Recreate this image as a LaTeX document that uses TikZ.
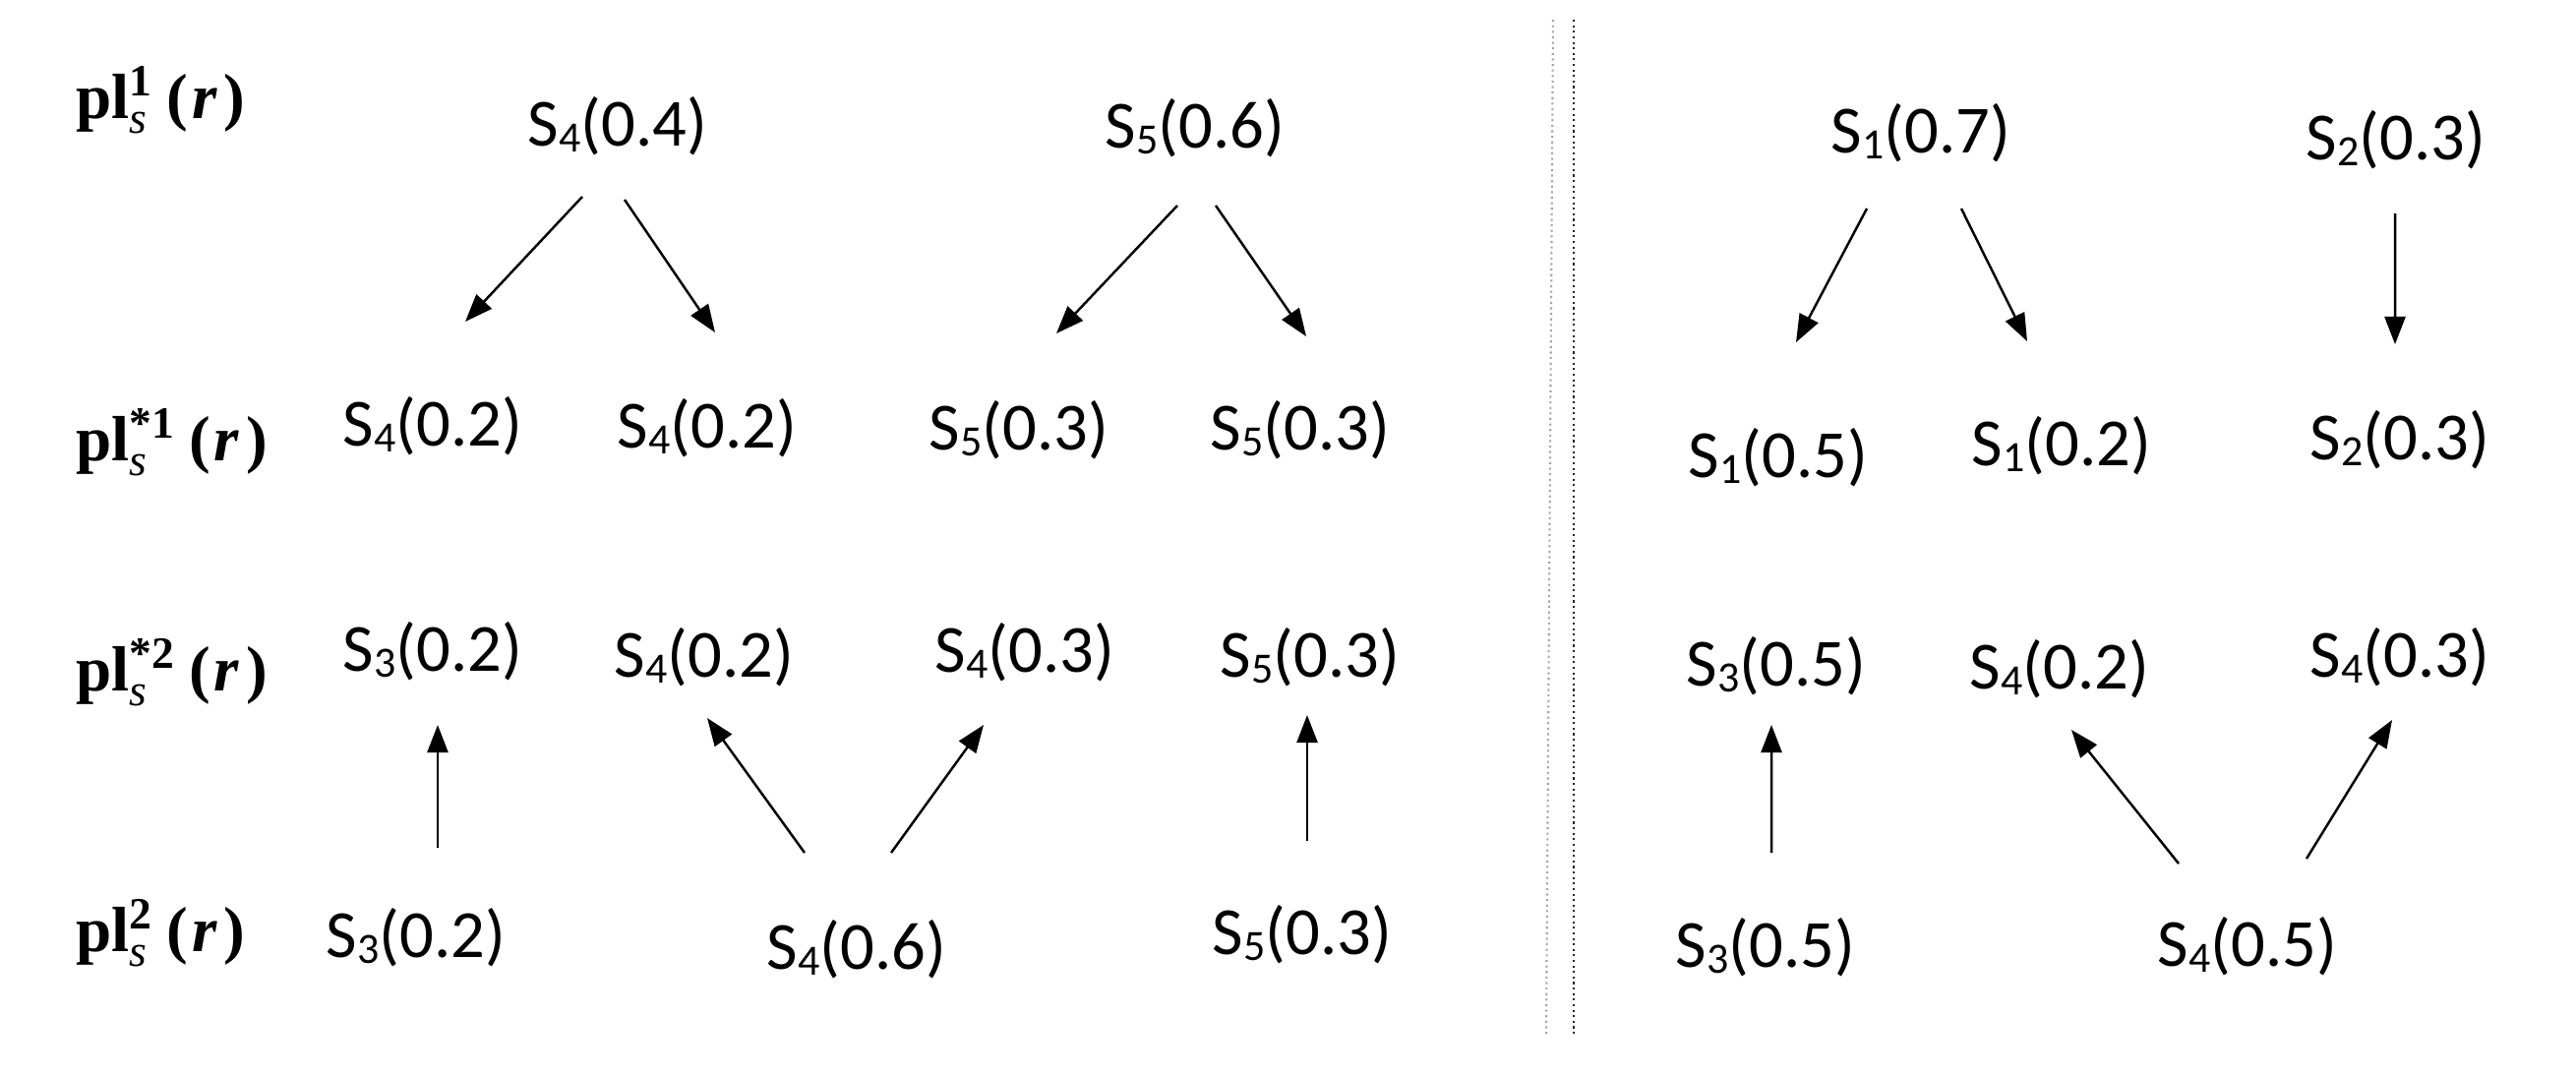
\documentclass[tikz,border=0pt]{standalone}
\usepackage{fontspec}
\usepackage{amsmath}
\setmainfont{Carlito}
\newfontfamily\lbfont{Liberation Serif}
\usetikzlibrary{arrows.meta}
% state with its probability, subscript as in the source
\newcommand{\stp}[2]{S\raisebox{-0.1em}{\fontsize{12.5}{12.5}\selectfont #1}(#2)}
% row label pl_s^x(r)
\newcommand{\plab}[1]{{\lbfont\textbf{pl}$^{\text{\lbfont\bfseries #1}}_{\text{\lbfont\itshape s}}$\hspace{0.2em}\textbf{(}\hspace{0.06em}\textbf{\textit{r}}\hspace{0.1em}\textbf{)}}}
\tikzset{
  st/.style={font=\fontsize{19.5}{23}\selectfont, inner sep=0pt, anchor=base},
  lab/.style={font=\fontsize{18.5}{22}\selectfont, inner sep=0pt, anchor=base west},
  arr/.style={-{Triangle[length=8pt,width=6pt]}, line width=0.7pt},
  sep/.style={densely dotted, line width=0.6pt}
}
\begin{document}
\begin{tikzpicture}
    \useasboundingbox (0,0) rectangle (26.19,-10.93);

    % Row labels
    \node[lab] (p1)  at (0.77,-1.20) {\plab{1}};
    \node[lab] (ps1) at (0.77,-4.68) {\plab{*1}};
    \node[lab] (ps2) at (0.77,-7.02) {\plab{*2}};
    \node[lab] (p2)  at (0.77,-9.67) {\plab{2}};

    % Left part
    \node[st] (l1a) at (6.28,-1.48) {\stp{4}{0.4}};
    \node[st] (l1b) at (12.15,-1.50) {\stp{5}{0.6}};
    \node[st] (l2a) at (4.40,-4.53) {\stp{4}{0.2}};
    \node[st] (l2b) at (7.19,-4.55) {\stp{4}{0.2}};
    \node[st] (l2c) at (10.36,-4.57) {\stp{5}{0.3}};
    \node[st] (l2d) at (13.22,-4.57) {\stp{5}{0.3}};
    \node[st] (l3a) at (4.40,-6.82) {\stp{3}{0.2}};
    \node[st] (l3b) at (7.16,-6.88) {\stp{4}{0.2}};
    \node[st] (l3c) at (10.42,-6.83) {\stp{4}{0.3}};
    \node[st] (l3d) at (13.32,-6.88) {\stp{5}{0.3}};
    \node[st] (l4a) at (4.23,-9.73) {\stp{3}{0.2}};
    \node[st] (l4b) at (8.71,-9.85) {\stp{4}{0.6}};
    \node[st] (l4c) at (13.24,-9.70) {\stp{5}{0.3}};

    \draw[arr] ([shift={(-0.36,-0.52)}]l1a.base) -- ([shift={(0.33,1.26)}]l2a.base);
    \draw[arr] ([shift={(0.07,-0.55)}]l1a.base) -- ([shift={(0.08,1.17)}]l2b.base);
    \draw[arr] ([shift={(-0.18,-0.59)}]l1b.base) -- ([shift={(0.38,1.18)}]l2c.base);
    \draw[arr] ([shift={(0.21,-0.59)}]l1b.base) -- ([shift={(0.06,1.15)}]l2d.base);
    \draw[arr] ([shift={(0.22,1.11)}]l4a.base) -- ([shift={(0.05,-0.55)}]l3a.base);
    \draw[arr] ([shift={(-0.53,1.18)}]l4b.base) -- ([shift={(0.03,-0.42)}]l3b.base);
    \draw[arr] ([shift={(0.35,1.18)}]l4b.base) -- ([shift={(-0.42,-0.54)}]l3c.base);
    \draw[arr] ([shift={(0.05,1.15)}]l4c.base) -- ([shift={(-0.03,-0.39)}]l3d.base);

    % Separator
    \draw[sep, gray!70] (15.79,-0.20) -- (15.72,-10.52);
    \draw[sep, black!85] (16.00,-0.20) -- (16.00,-10.52);

    % Right part
    \node[st] (r1a) at (19.53,-1.55) {\stp{1}{0.7}};
    \node[st] (r1b) at (24.36,-1.62) {\stp{2}{0.3}};
    \node[st] (r2a) at (18.08,-4.85) {\stp{1}{0.5}};
    \node[st] (r2b) at (20.96,-4.73) {\stp{1}{0.2}};
    \node[st] (r2c) at (24.40,-4.67) {\stp{2}{0.3}};
    \node[st] (r3a) at (18.06,-6.97) {\stp{3}{0.5}};
    \node[st] (r3b) at (20.94,-7.00) {\stp{4}{0.2}};
    \node[st] (r3c) at (24.40,-6.88) {\stp{4}{0.3}};
    \node[st] (r4a) at (17.95,-9.83) {\stp{3}{0.5}};
    \node[st] (r4b) at (22.85,-9.82) {\stp{4}{0.5}};

    \draw[arr] ([shift={(-0.55,-0.57)}]r1a.base) -- ([shift={(0.18,1.37)}]r2a.base);
    \draw[arr] ([shift={(0.41,-0.57)}]r1a.base) -- ([shift={(-0.35,1.26)}]r2b.base);
    \draw[arr] ([shift={(-0.01,-0.55)}]r1b.base) -- ([shift={(-0.05,1.17)}]r2c.base);
    \draw[arr] ([shift={(0.06,1.16)}]r4a.base) -- ([shift={(-0.05,-0.40)}]r3a.base);
    \draw[arr] ([shift={(-0.70,1.04)}]r4b.base) -- ([shift={(0.12,-0.42)}]r3b.base);
    \draw[arr] ([shift={(0.60,1.09)}]r4b.base) -- ([shift={(-0.08,-0.44)}]r3c.base);
\end{tikzpicture}
\end{document}
